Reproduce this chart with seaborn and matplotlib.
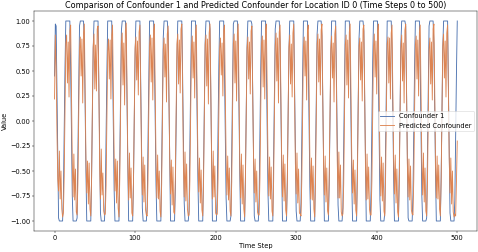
import matplotlib
matplotlib.use("Agg")
import matplotlib.pyplot as plt
import seaborn as sns
import pandas as pd

time_step = list(range(0, 501))

confounder_1 = [
    0.45, 0.97, 0.95, 0.31, -0.33, -0.97, -1, -1, -1, -1, -1,
    -0.74, -0.10, 0.54, 1, 1, 1, 1, 1, 1, 0.54, -0.10, -0.74, -1, -1, -1, -1, -1,
    -0.97, -0.33, 0.31, 0.95, 1, 1, 1, 1, 1, 0.77, 0.13, -0.51, -1, -1, -1, -1, -1, -1,
    -0.56, 0.08, 0.72, 1, 1, 1, 1, 1, 1, 0.36, -0.28, -0.92, -1, -1, -1, -1, -1,
    -0.79, -0.15, 0.49, 1, 1, 1, 1, 1, 1, 0.59, -0.05, -0.69, -1, -1, -1, -1, -1, -1,
    -0.38, 0.26, 0.90, 1, 1, 1, 1, 1, 0.82, 0.18, -0.46, -1, -1, -1, -1, -1, -1,
    -0.62, 0.02, 0.66, 1, 1, 1, 1, 1, 1, 0.41, -0.23, -0.87, -1, -1, -1, -1, -1,
    -0.85, -0.21, 0.43, 1, 1, 1, 1, 1, 1, 0.64, 0.00, -0.64, -1, -1, -1, -1, -1, -1,
    -0.44, 0.20, 0.84, 1, 1, 1, 1, 1, 0.87, 0.23, -0.41, -1, -1, -1, -1, -1, -1,
    -0.67, -0.03, 0.61, 1, 1, 1, 1, 1, 1, 0.46, -0.18, -0.82, -1, -1, -1, -1, -1,
    -0.90, -0.26, 0.38, 1, 1, 1, 1, 1, 1, 0.69, 0.05, -0.59, -1, -1, -1, -1, -1, -1,
    -0.49, 0.15, 0.79, 1, 1, 1, 1, 1, 0.92, 0.28, -0.36, -1, -1, -1, -1, -1, -1,
    -0.72, -0.08, 0.56, 1, 1, 1, 1, 1, 1, 0.51, -0.13, -0.77, -1, -1, -1, -1, -1,
    -0.95, -0.31, 0.33, 0.97, 1, 1, 1, 1, 1, 0.74, 0.10, -0.54, -1, -1, -1, -1, -1, -1,
    -0.54, 0.10, 0.74, 1, 1, 1, 1, 1, 0.97, 0.33, -0.31, -0.95, -1, -1, -1, -1, -1,
    -0.77, -0.13, 0.51, 1, 1, 1, 1, 1, 1, 0.56, -0.08, -0.72, -1, -1, -1, -1, -1, -1,
    -0.36, 0.28, 0.92, 1, 1, 1, 1, 1, 0.79, 0.15, -0.49, -1, -1, -1, -1, -1, -1,
    -0.59, 0.05, 0.69, 1, 1, 1, 1, 1, 1, 0.38, -0.26, -0.90, -1, -1, -1, -1, -1,
    -0.82, -0.18, 0.46, 1, 1, 1, 1, 1, 1, 0.62, -0.02, -0.66, -1, -1, -1, -1, -1, -1,
    -0.41, 0.23, 0.87, 1, 1, 1, 1, 1, 0.85, 0.21, -0.43, -1, -1, -1, -1, -1, -1,
    -0.64, 0.00, 0.64, 1, 1, 1, 1, 1, 1, 0.44, -0.20, -0.84, -1, -1, -1, -1, -1,
    -0.87, -0.23, 0.41, 1, 1, 1, 1, 1, 1, 0.67, 0.03, -0.61, -1, -1, -1, -1, -1, -1,
    -0.46, 0.18, 0.82, 1, 1, 1, 1, 1, 0.90, 0.26, -0.38, -1, -1, -1, -1, -1, -1,
    -0.69, -0.05, 0.59, 1, 1, 1, 1, 1, 1, 0.49, -0.15, -0.79, -1, -1, -1, -1, -1,
    -0.92, -0.28, 0.36, 1, 1, 1, 1, 1, 1, 0.72, 0.08, -0.56, -1, -1, -1, -1, -1, -1,
    -0.51, 0.13, 0.77, 1, 1, 1, 1, 1, 0.95, 0.31, -0.33, -0.97, -1, -1, -1, -1, -1,
    -0.74, -0.10, 0.54, 1, 1, 1, 1, 1, 1, 0.54, -0.10, -0.74, -1, -1, -1, -1, -1,
    -0.97, -0.33, 0.31, 0.95, 1, 1, 1, 1, 1, 0.77, 0.13, -0.51, -1, -1, -1, -1, -1, -1,
    -0.56, 0.08, 0.72, 1, 1, 1, 1, 1, 1, 0.36, -0.28, -0.92, -1, -1, -1, -1, -1,
    -0.79, -0.15, 0.49, 1,
]

predicted_confounder = [
    0.22, 0.86, 0.55, -0.1, -0.58, -0.7, -0.3, -0.78, -0.5, -0.88, -0.96,
    -0.92, -0.55, 0.12, 0.78, 0.86, 0.38, 0.79, 0.24, 0.9, 0.96, 0.32, -0.42, -0.76, -0.33, -0.79, -0.48, -0.91,
    -0.94, -0.62, 0.08, 0.72, 0.84, 0.45, 0.82, 0.18, 0.88, 0.97, 0.28, -0.38, -0.72, -0.4, -0.83, -0.42, -0.88, -0.95,
    -0.58, 0.15, 0.74, 0.87, 0.32, 0.76, 0.3, 0.92, 0.95, 0.36, -0.45, -0.78, -0.28, -0.74, -0.52, -0.9, -0.94,
    -0.93, -0.64, 0.05, 0.7, 0.82, 0.42, 0.81, 0.22, 0.86, 0.96, 0.26, -0.36, -0.7, -0.38, -0.82, -0.4, -0.87, -0.96,
    -0.57, 0.14, 0.78, 0.88, 0.36, 0.78, 0.16, 0.9, 0.98, 0.34, -0.43, -0.79, -0.32, -0.77, -0.47, -0.92, -0.95,
    -0.61, 0.09, 0.73, 0.84, 0.41, 0.8, 0.26, 0.89, 0.96, 0.29, -0.39, -0.74, -0.36, -0.81, -0.44, -0.89, -0.94,
    -0.95, -0.59, 0.11, 0.76, 0.86, 0.39, 0.83, 0.21, 0.91, 0.97, 0.31, -0.41, -0.77, -0.34, -0.78, -0.5, -0.9, -0.96,
    -0.63, 0.07, 0.71, 0.83, 0.44, 0.77, 0.19, 0.87, 0.95, 0.27, -0.37, -0.73, -0.39, -0.84, -0.46, -0.91, -0.93,
    -0.56, 0.13, 0.77, 0.87, 0.37, 0.81, 0.28, 0.92, 0.97, 0.33, -0.44, -0.76, -0.31, -0.8, -0.43, -0.88, -0.95,
    -0.94, -0.6, 0.1, 0.74, 0.85, 0.43, 0.79, 0.23, 0.89, 0.96, 0.3, -0.4, -0.71, -0.37, -0.82, -0.49, -0.89, -0.95,
    -0.62, 0.06, 0.76, 0.86, 0.35, 0.82, 0.17, 0.88, 0.97, 0.35, -0.42, -0.78, -0.3, -0.76, -0.45, -0.92, -0.94,
    -0.93, -0.58, 0.12, 0.73, 0.83, 0.46, 0.78, 0.25, 0.91, 0.96, 0.27, -0.38, -0.74, -0.35, -0.79, -0.47, -0.9,
    -0.95, -0.61, 0.09, 0.77, 0.87, 0.38, 0.8, 0.2, 0.87, 0.97, 0.32, -0.43, -0.77, -0.33, -0.83, -0.44, -0.88, -0.96,
    -0.59, 0.11, 0.72, 0.84, 0.42, 0.79, 0.27, 0.9, 0.95, 0.29, -0.36, -0.72, -0.38, -0.81, -0.5, -0.91, -0.94,
    -0.94, -0.57, 0.14, 0.78, 0.85, 0.34, 0.81, 0.22, 0.92, 0.97, 0.33, -0.41, -0.75, -0.36, -0.78, -0.46, -0.9, -0.95,
    -0.6, 0.08, 0.75, 0.88, 0.4, 0.83, 0.18, 0.89, 0.96, 0.31, -0.39, -0.76, -0.34, -0.8, -0.43, -0.89, -0.95,
    -0.62, 0.1, 0.74, 0.86, 0.37, 0.77, 0.24, 0.88, 0.97, 0.28, -0.42, -0.73, -0.32, -0.82, -0.48, -0.92, -0.93,
    -0.95, -0.58, 0.07, 0.73, 0.84, 0.45, 0.8, 0.21, 0.9, 0.96, 0.34, -0.38, -0.78, -0.37, -0.79, -0.45, -0.88, -0.96,
    -0.61, 0.12, 0.77, 0.87, 0.39, 0.82, 0.26, 0.91, 0.97, 0.3, -0.44, -0.74, -0.35, -0.81, -0.47, -0.9, -0.94,
    -0.57, 0.09, 0.72, 0.85, 0.43, 0.78, 0.19, 0.87, 0.95, 0.32, -0.4, -0.77, -0.31, -0.77, -0.44, -0.91, -0.95,
    -0.93, -0.63, 0.11, 0.76, 0.86, 0.36, 0.81, 0.23, 0.89, 0.97, 0.29, -0.37, -0.72, -0.39, -0.83, -0.49, -0.89, -0.95,
    -0.59, 0.13, 0.75, 0.83, 0.41, 0.79, 0.2, 0.92, 0.96, 0.33, -0.43, -0.79, -0.33, -0.78, -0.46, -0.88, -0.94,
    -0.94, -0.6, 0.08, 0.74, 0.87, 0.44, 0.8, 0.27, 0.9, 0.97, 0.31, -0.41, -0.75, -0.36, -0.8, -0.42, -0.9,
    -0.95, -0.56, 0.1, 0.77, 0.84, 0.38, 0.83, 0.22, 0.88, 0.96, 0.27, -0.39, -0.73, -0.34, -0.82, -0.48, -0.91, -0.96,
    -0.62, 0.06, 0.73, 0.86, 0.4, 0.78, 0.18, 0.91, 0.97, 0.35, -0.42, -0.76, -0.38, -0.79, -0.45, -0.89, -0.93,
    -0.94, -0.58, 0.12, 0.76, 0.85, 0.42, 0.81, 0.25, 0.89, 0.96, 0.3, -0.4, -0.74, -0.32, -0.81, -0.47, -0.9,
    -0.95, -0.61, 0.09, 0.72, 0.83, 0.37, 0.79, 0.21, 0.92, 0.97, 0.32, -0.43, -0.77, -0.35, -0.78, -0.44, -0.88, -0.95,
    -0.6, 0.11, 0.75, 0.87, 0.43, 0.8, 0.24, 0.88, 0.96, 0.29, -0.38, -0.72, -0.37, -0.83, -0.5, -0.91, -0.96,
    -0.93, -0.95, -0.6, -0.2,
]

series_names = ["Confounder 1", "Predicted Confounder"]
title = "Comparison of Confounder 1 and Predicted Confounder for Location ID 0 (Time Steps 0 to 500)"

palette = sns.color_palette("deep")
plt.rcParams["font.size"] = 12

df = pd.DataFrame({
    "Time Step": time_step,
    series_names[0]: confounder_1,
    series_names[1]: predicted_confounder,
})

W, H, DPI = 478, 252, 40
fig = plt.figure(figsize=(W / DPI, H / DPI), dpi=DPI)
ax = fig.add_axes([34.4 / W, 21 / H, 443 / W, 220 / H])

sns.lineplot(data=df, x="Time Step", y=series_names[0], ax=ax,
             color=palette[0], label=series_names[0], linewidth=1.6)
sns.lineplot(data=df, x="Time Step", y=series_names[1], ax=ax,
             color=palette[1], label=series_names[1], linewidth=1.6)

ax.set_title(title)
ax.set_xlabel("Time Step")
ax.set_ylabel("Value")
ax.legend(loc="center right")

fig.savefig("out.png", dpi=DPI)
